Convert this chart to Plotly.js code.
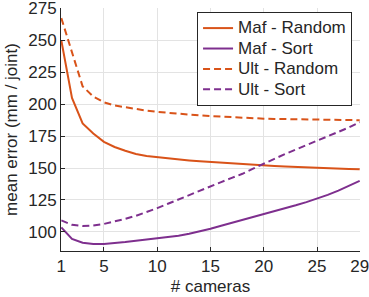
<!DOCTYPE html>
<html>
<head>
<meta charset="utf-8">
<script src="https://cdn.plot.ly/plotly-3.0.1.min.js"></script>
<style>html,body{margin:0;padding:0;background:#fff;}#chart{width:369px;height:297px;}</style>
</head>
<body>
<div id="chart"></div>
<script>
const cameras = [1,2,3,4,5,6,7,8,9,10,11,12,13,14,15,16,17,18,19,20,21,22,23,24,25,26,27,28,29];
const mafRandom = [250,205,185,177,170.5,166.5,163.5,161,159.5,158.5,157.5,156.7,156,155.3,154.7,154.2,153.6,153,152.5,152,151.6,151.2,150.8,150.5,150.2,149.9,149.6,149.3,149];
const mafSort = [103.5,94.5,91.5,90.5,90.5,91,92,93,94,95,95.8,97,98.5,100.3,102.5,104.8,107,109.3,111.5,113.8,116,118.4,120.8,123.3,126,129,132.3,136,140];
const ultRandom = [267.5,240,214,206,201.5,199,197.5,196,195,194,193.2,192.5,191.8,191.2,190.7,190.2,189.8,189.4,189,188.7,188.5,188.3,188.1,188,187.9,187.8,187.7,187.6,187.5];
const ultSort = [109,105.5,104.5,105,106.2,108,110.2,112.6,115.3,118.6,122,125.5,128.8,132.2,135.5,139,142.3,145.5,149.5,153.6,157.2,161,164.5,167.8,171,174.5,178,181.8,186];
const seriesNames = ['Maf - Random','Maf - Sort','Ult - Random','Ult - Sort'];
const xTicks = [1,5,10,15,20,25,29];
const yTicks = [100,125,150,175,200,225,250,275];

const orange = '#D95319', purple = '#7E2F8E';
const dashPat = '7px,4px';
const big = s => '<span style="font-size:17px">' + s + '</span>';
const traces = [
  {x: cameras, y: mafRandom, name: big(seriesNames[0]), line: {color: orange, width: 2}},
  {x: cameras, y: mafSort, name: big(seriesNames[1]), line: {color: purple, width: 2}},
  {x: cameras, y: ultRandom, name: big(seriesNames[2]), line: {color: orange, width: 2, dash: dashPat}},
  {x: cameras, y: ultSort, name: big(seriesNames[3]), line: {color: purple, width: 2, dash: dashPat}}
].map(t => Object.assign({type: 'scatter', mode: 'lines'}, t));

const font = {family: 'Liberation Sans, Arial, sans-serif', size: 17, color: '#262626'};
const legFont = {family: 'Liberation Sans, Arial, sans-serif', size: 13.4, color: '#262626'};
const layout = {
  width: 369, height: 297,
  margin: {l: 61, r: 9, t: 8, b: 46, pad: 0},
  paper_bgcolor: '#fff', plot_bgcolor: '#fff',
  font: font,
  showlegend: true,
  legend: {x: 0.455, y: 0.984, xanchor: 'left', yanchor: 'top', bgcolor: '#fff',
           bordercolor: '#262626', borderwidth: 1, font: legFont, tracegroupgap: 0},
  xaxis: {range: [0.97, 29.03], tickvals: xTicks, ticktext: xTicks.map(String),
          ticks: 'inside', ticklen: 4, tickcolor: '#262626', showline: true, linecolor: '#262626', linewidth: 1,
          showgrid: true, gridcolor: '#e3e3e3', zeroline: false, tickfont: font, ticklabeloverflow: 'allow',
          title: {text: '# cameras', font: font, standoff: 4}},
  yaxis: {range: [85, 275.4], tickvals: yTicks, ticktext: yTicks.map(String),
          ticks: 'inside', ticklen: 4, tickcolor: '#262626', showline: true, linecolor: '#262626', linewidth: 1,
          showgrid: true, gridcolor: '#e3e3e3', zeroline: false, tickfont: font, ticklabeloverflow: 'allow',
          title: {text: 'mean error (mm / joint)', font: font, standoff: 6}}
};
Plotly.newPlot('chart', traces, layout, {staticPlot: true, displayModeBar: false});
</script>
</body>
</html>
